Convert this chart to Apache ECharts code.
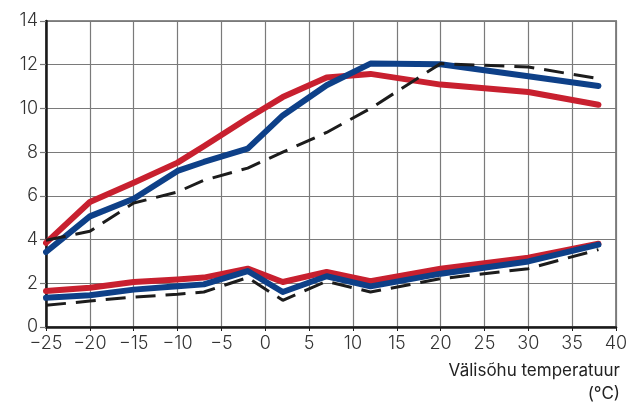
<!DOCTYPE html>
<html><head><meta charset="utf-8">
<script src="https://cdn.jsdelivr.net/npm/echarts@6/dist/echarts.min.js"></script>
<style>html,body{margin:0;padding:0;background:#fff}#c{width:638px;height:407px}</style>
</head><body><div id="c"></div>
<script>
var temps = [-25, -20, -15, -10, -7, -2, 2, 7, 12, 20, 30, 38];
var redUpper   = [3.85, 5.72, 6.6, 7.52, 8.27, 9.55, 10.52, 11.42, 11.58, 11.09, 10.75, 10.17];
var blueUpper  = [3.43, 5.06, 5.87, 7.14, 7.55, 8.16, 9.68, 11.06, 12.05, 12.02, 11.47, 11.03];
var dashUpper  = [3.97, 4.38, 5.67, 6.18, 6.71, 7.27, 8.0, 8.9, 10.0, 12.05, 11.9, 11.36];
var redLower   = [1.65, 1.80, 2.06, 2.17, 2.26, 2.67, 2.06, 2.52, 2.10, 2.67, 3.17, 3.81];
var blueLower  = [1.34, 1.45, 1.71, 1.86, 1.95, 2.56, 1.60, 2.32, 1.86, 2.44, 3.00, 3.77];
var dashLower  = [0.99, 1.19, 1.37, 1.50, 1.60, 2.26, 1.22, 2.09, 1.60, 2.21, 2.67, 3.54];
var axisTitle = ['Välisõhu temperatuur', '(°C)'];

function pairs(vals){ return temps.map(function(t,i){ return [t, vals[i]]; }); }
var RED = '#c8202f', BLUE = '#0e4088', DASH = '#1c1c1c';
function solid(vals, color){
  return {type:'line', data:pairs(vals), symbol:'none', silent:true,
    lineStyle:{color:color, width:6, cap:'round', join:'round'}};
}
function dashed(vals){
  return {type:'line', data:pairs(vals), symbol:'none', silent:true,
    lineStyle:{color:DASH, width:3, type:[20,10], cap:'butt'}};
}
var fontFam = 'Inter, "Noto Sans", sans-serif';
var chart = echarts.init(document.getElementById('c'), null, {renderer:'canvas'});
chart.setOption({
  animation:false,
  grid:{left:46, right:22, top:21, bottom:80, show:true, borderColor:'#8a8a8a', borderWidth:2, backgroundColor:'transparent'},
  xAxis:{type:'value', min:-25, max:40, interval:5,
    axisLine:{onZero:false, lineStyle:{color:'#1a1a1a', width:2.5}},
    axisTick:{show:true, length:4, lineStyle:{color:'#1a1a1a'}},
    axisLabel:{color:'#333', fontSize:18, fontWeight:300, fontFamily:fontFam, margin:8,
      formatter:function(v){ return String(v).replace('-', '\u2212'); }},
    splitLine:{show:true, lineStyle:{color:'#7a7a7a', width:1.2}}},
  yAxis:{type:'value', min:0, max:14, interval:2,
    axisLine:{show:true, onZero:false, lineStyle:{color:'#1a1a1a', width:2.5}},
    axisTick:{show:true, length:6, lineStyle:{color:'#7a7a7a', width:1.2}},
    axisLabel:{color:'#333', fontSize:18, fontWeight:300, fontFamily:fontFam, margin:8},
    splitLine:{show:true, lineStyle:{color:'#7a7a7a', width:1.2}}},
  graphic:[
    {type:'text', right:18, top:362, style:{text:axisTitle[0], fill:'#222', font:'17px '+fontFam, textAlign:'right'}},
    {type:'text', right:18, top:385, style:{text:axisTitle[1], fill:'#222', font:'17px '+fontFam, textAlign:'right'}}
  ],
  series:[
    solid(redUpper, RED), solid(blueUpper, BLUE), dashed(dashUpper),
    solid(redLower, RED), solid(blueLower, BLUE), dashed(dashLower)
  ]
});
</script></body></html>
